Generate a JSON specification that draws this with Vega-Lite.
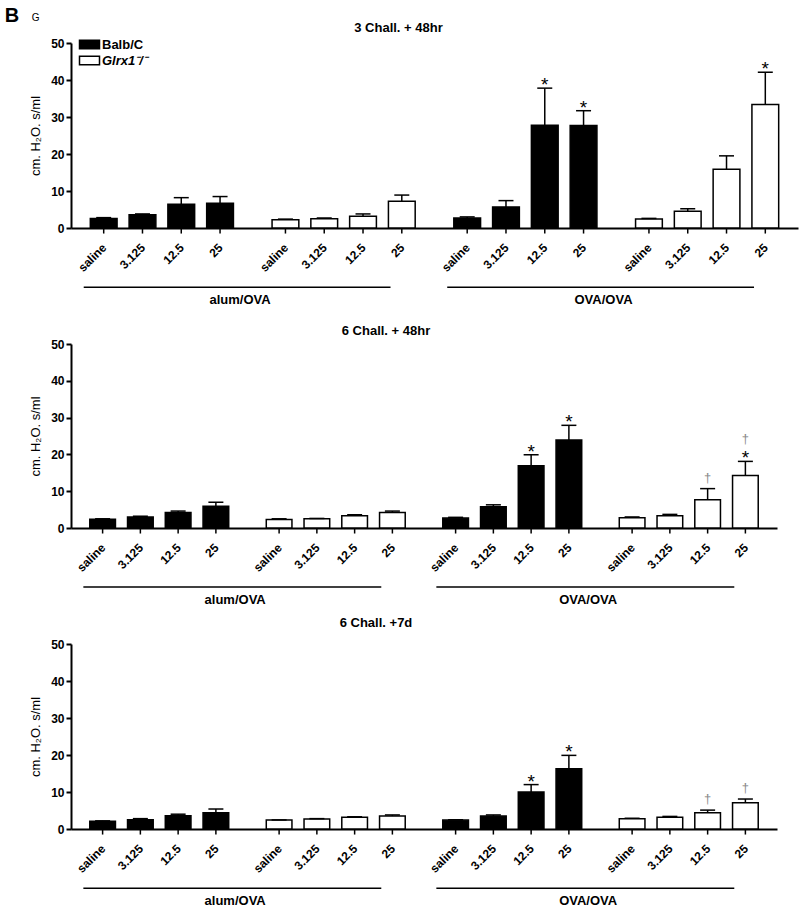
{
  "$schema": "https://vega.github.io/schema/vega-lite/v6.json",
  "padding": {"left": 4, "top": 6, "right": 4, "bottom": 2},
  "title": {"text": "B", "anchor": "start", "frame": "bounds", "dx": -25, "offset": -13, "font": "Liberation Sans", "fontSize": 20, "fontWeight": "bold", "color": "black"},
  "datasets": {
    "bars": [
      {"panel": 1, "group": "Balb/C alum/OVA", "strain": "Balb/C", "dose": "saline", "value": 2.6, "upper": 2.8, "star": "", "dagger": ""},
      {"panel": 1, "group": "Balb/C alum/OVA", "strain": "Balb/C", "dose": "3.125", "value": 3.6, "upper": 3.8, "star": "", "dagger": ""},
      {"panel": 1, "group": "Balb/C alum/OVA", "strain": "Balb/C", "dose": "12.5", "value": 6.4, "upper": 8.2, "star": "", "dagger": ""},
      {"panel": 1, "group": "Balb/C alum/OVA", "strain": "Balb/C", "dose": "25", "value": 6.7, "upper": 8.5, "star": "", "dagger": ""},
      {"panel": 1, "group": "Glrx1 alum/OVA", "strain": "Glrx1⁻/⁻", "dose": "saline", "value": 2.2, "upper": 2.4, "star": "", "dagger": ""},
      {"panel": 1, "group": "Glrx1 alum/OVA", "strain": "Glrx1⁻/⁻", "dose": "3.125", "value": 2.5, "upper": 2.7, "star": "", "dagger": ""},
      {"panel": 1, "group": "Glrx1 alum/OVA", "strain": "Glrx1⁻/⁻", "dose": "12.5", "value": 3.2, "upper": 3.8, "star": "", "dagger": ""},
      {"panel": 1, "group": "Glrx1 alum/OVA", "strain": "Glrx1⁻/⁻", "dose": "25", "value": 7.2, "upper": 8.9, "star": "", "dagger": ""},
      {"panel": 1, "group": "Balb/C OVA/OVA", "strain": "Balb/C", "dose": "saline", "value": 2.7, "upper": 3.0, "star": "", "dagger": ""},
      {"panel": 1, "group": "Balb/C OVA/OVA", "strain": "Balb/C", "dose": "3.125", "value": 5.7, "upper": 7.4, "star": "", "dagger": ""},
      {"panel": 1, "group": "Balb/C OVA/OVA", "strain": "Balb/C", "dose": "12.5", "value": 27.8, "upper": 37.8, "star": "*", "dagger": ""},
      {"panel": 1, "group": "Balb/C OVA/OVA", "strain": "Balb/C", "dose": "25", "value": 27.7, "upper": 31.7, "star": "*", "dagger": ""},
      {"panel": 1, "group": "Glrx1 OVA/OVA", "strain": "Glrx1⁻/⁻", "dose": "saline", "value": 2.4, "upper": 2.6, "star": "", "dagger": ""},
      {"panel": 1, "group": "Glrx1 OVA/OVA", "strain": "Glrx1⁻/⁻", "dose": "3.125", "value": 4.5, "upper": 5.2, "star": "", "dagger": ""},
      {"panel": 1, "group": "Glrx1 OVA/OVA", "strain": "Glrx1⁻/⁻", "dose": "12.5", "value": 15.9, "upper": 19.5, "star": "", "dagger": ""},
      {"panel": 1, "group": "Glrx1 OVA/OVA", "strain": "Glrx1⁻/⁻", "dose": "25", "value": 33.4, "upper": 42.1, "star": "*", "dagger": ""},

      {"panel": 2, "group": "Balb/C alum/OVA", "strain": "Balb/C", "dose": "saline", "value": 2.4, "upper": 2.5, "star": "", "dagger": ""},
      {"panel": 2, "group": "Balb/C alum/OVA", "strain": "Balb/C", "dose": "3.125", "value": 3.0, "upper": 3.2, "star": "", "dagger": ""},
      {"panel": 2, "group": "Balb/C alum/OVA", "strain": "Balb/C", "dose": "12.5", "value": 4.2, "upper": 4.6, "star": "", "dagger": ""},
      {"panel": 2, "group": "Balb/C alum/OVA", "strain": "Balb/C", "dose": "25", "value": 5.9, "upper": 7.0, "star": "", "dagger": ""},
      {"panel": 2, "group": "Glrx1 alum/OVA", "strain": "Glrx1⁻/⁻", "dose": "saline", "value": 2.3, "upper": 2.5, "star": "", "dagger": ""},
      {"panel": 2, "group": "Glrx1 alum/OVA", "strain": "Glrx1⁻/⁻", "dose": "3.125", "value": 2.5, "upper": 2.6, "star": "", "dagger": ""},
      {"panel": 2, "group": "Glrx1 alum/OVA", "strain": "Glrx1⁻/⁻", "dose": "12.5", "value": 3.3, "upper": 3.6, "star": "", "dagger": ""},
      {"panel": 2, "group": "Glrx1 alum/OVA", "strain": "Glrx1⁻/⁻", "dose": "25", "value": 4.2, "upper": 4.6, "star": "", "dagger": ""},
      {"panel": 2, "group": "Balb/C OVA/OVA", "strain": "Balb/C", "dose": "saline", "value": 2.7, "upper": 2.9, "star": "", "dagger": ""},
      {"panel": 2, "group": "Balb/C OVA/OVA", "strain": "Balb/C", "dose": "3.125", "value": 5.8, "upper": 6.3, "star": "", "dagger": ""},
      {"panel": 2, "group": "Balb/C OVA/OVA", "strain": "Balb/C", "dose": "12.5", "value": 16.9, "upper": 19.9, "star": "*", "dagger": ""},
      {"panel": 2, "group": "Balb/C OVA/OVA", "strain": "Balb/C", "dose": "25", "value": 23.9, "upper": 27.9, "star": "*", "dagger": ""},
      {"panel": 2, "group": "Glrx1 OVA/OVA", "strain": "Glrx1⁻/⁻", "dose": "saline", "value": 2.8, "upper": 3.0, "star": "", "dagger": ""},
      {"panel": 2, "group": "Glrx1 OVA/OVA", "strain": "Glrx1⁻/⁻", "dose": "3.125", "value": 3.3, "upper": 3.7, "star": "", "dagger": ""},
      {"panel": 2, "group": "Glrx1 OVA/OVA", "strain": "Glrx1⁻/⁻", "dose": "12.5", "value": 7.7, "upper": 10.7, "star": "", "dagger": "†"},
      {"panel": 2, "group": "Glrx1 OVA/OVA", "strain": "Glrx1⁻/⁻", "dose": "25", "value": 14.3, "upper": 18.1, "star": "*", "dagger": "†"},

      {"panel": 3, "group": "Balb/C alum/OVA", "strain": "Balb/C", "dose": "saline", "value": 2.1, "upper": 2.2, "star": "", "dagger": ""},
      {"panel": 3, "group": "Balb/C alum/OVA", "strain": "Balb/C", "dose": "3.125", "value": 2.5, "upper": 2.8, "star": "", "dagger": ""},
      {"panel": 3, "group": "Balb/C alum/OVA", "strain": "Balb/C", "dose": "12.5", "value": 3.6, "upper": 4.0, "star": "", "dagger": ""},
      {"panel": 3, "group": "Balb/C alum/OVA", "strain": "Balb/C", "dose": "25", "value": 4.4, "upper": 5.4, "star": "", "dagger": ""},
      {"panel": 3, "group": "Glrx1 alum/OVA", "strain": "Glrx1⁻/⁻", "dose": "saline", "value": 2.4, "upper": 2.45, "star": "", "dagger": ""},
      {"panel": 3, "group": "Glrx1 alum/OVA", "strain": "Glrx1⁻/⁻", "dose": "3.125", "value": 2.7, "upper": 2.8, "star": "", "dagger": ""},
      {"panel": 3, "group": "Glrx1 alum/OVA", "strain": "Glrx1⁻/⁻", "dose": "12.5", "value": 3.2, "upper": 3.3, "star": "", "dagger": ""},
      {"panel": 3, "group": "Glrx1 alum/OVA", "strain": "Glrx1⁻/⁻", "dose": "25", "value": 3.5, "upper": 3.8, "star": "", "dagger": ""},
      {"panel": 3, "group": "Balb/C OVA/OVA", "strain": "Balb/C", "dose": "saline", "value": 2.4, "upper": 2.5, "star": "", "dagger": ""},
      {"panel": 3, "group": "Balb/C OVA/OVA", "strain": "Balb/C", "dose": "3.125", "value": 3.5, "upper": 3.8, "star": "", "dagger": ""},
      {"panel": 3, "group": "Balb/C OVA/OVA", "strain": "Balb/C", "dose": "12.5", "value": 10.0, "upper": 12.0, "star": "*", "dagger": ""},
      {"panel": 3, "group": "Balb/C OVA/OVA", "strain": "Balb/C", "dose": "25", "value": 16.3, "upper": 19.9, "star": "*", "dagger": ""},
      {"panel": 3, "group": "Glrx1 OVA/OVA", "strain": "Glrx1⁻/⁻", "dose": "saline", "value": 2.8, "upper": 2.9, "star": "", "dagger": ""},
      {"panel": 3, "group": "Glrx1 OVA/OVA", "strain": "Glrx1⁻/⁻", "dose": "3.125", "value": 3.2, "upper": 3.4, "star": "", "dagger": ""},
      {"panel": 3, "group": "Glrx1 OVA/OVA", "strain": "Glrx1⁻/⁻", "dose": "12.5", "value": 4.4, "upper": 5.1, "star": "", "dagger": "†"},
      {"panel": 3, "group": "Glrx1 OVA/OVA", "strain": "Glrx1⁻/⁻", "dose": "25", "value": 7.1, "upper": 8.1, "star": "", "dagger": "†"}
    ],
    "brackets": [
      {"panel": 1, "start": "Balb/C alum/OVA", "end": "Glrx1 alum/OVA", "label": "alum/OVA"},
      {"panel": 1, "start": "Balb/C OVA/OVA", "end": "Glrx1 OVA/OVA", "label": "OVA/OVA"},
      {"panel": 2, "start": "Balb/C alum/OVA", "end": "Glrx1 alum/OVA", "label": "alum/OVA"},
      {"panel": 2, "start": "Balb/C OVA/OVA", "end": "Glrx1 OVA/OVA", "label": "OVA/OVA"},
      {"panel": 3, "start": "Balb/C alum/OVA", "end": "Glrx1 alum/OVA", "label": "alum/OVA"},
      {"panel": 3, "start": "Balb/C OVA/OVA", "end": "Glrx1 OVA/OVA", "label": "OVA/OVA"}
    ]
  },
  "vconcat": [
    {
      "title": {"text": "G", "anchor": "start", "frame": "bounds", "dx": 2, "offset": -1, "font": "Liberation Sans", "fontSize": 10, "fontWeight": "normal", "color": "black"},
      "spacing": 116,
      "bounds": "flush",
      "resolve": {"scale": {"x": "independent", "xOffset": "independent", "y": "independent"}, "legend": {"fill": "independent"}},
      "vconcat": [
        {
          "width": 727, "height": 185,
          "title": {"text": "3 Chall. + 48hr", "dx": -36, "offset": 2},
          "layer": [
            {
              "data": {"name": "bars"},
              "transform": [{"filter": "datum.panel === 1"}],
              "encoding": {
                "x": {"field": "group", "type": "nominal", "scale": {"domain": ["Balb/C alum/OVA", "Glrx1 alum/OVA", "Balb/C OVA/OVA", "Glrx1 OVA/OVA"], "paddingInner": 0.14, "paddingOuter": 0.07}, "axis": {"labels": false, "ticks": false, "title": null, "grid": false}},
                "xOffset": {"field": "dose", "type": "nominal", "scale": {"domain": ["saline", "3.125", "12.5", "25"], "paddingInner": 0.31, "paddingOuter": 0.17}}
              },
              "layer": [
                {"mark": {"type": "bar", "stroke": "black", "strokeWidth": 1.5},
                 "encoding": {
                   "y": {"field": "value", "type": "quantitative", "scale": {"domain": [0, 50], "nice": false}, "axis": {"values": [0, 10, 20, 30, 40, 50], "title": "cm. H₂O. s/ml"}},
                   "fill": {"field": "strain", "type": "nominal", "scale": {"domain": ["Balb/C", "Glrx1⁻/⁻"], "range": ["black", "white"]},
                     "legend": {"orient": "top-left", "offset": -5, "title": null, "padding": 0, "symbolType": "M-2,-0.85H2V0.85H-2Z", "symbolSize": 100, "symbolOffset": 17, "symbolStrokeColor": "black", "symbolStrokeWidth": 1.5, "labelFont": "Liberation Sans", "labelFontSize": 13, "labelFontWeight": "bold", "labelColor": "black", "labelOffset": 6, "rowPadding": 1,
                       "encode": {"labels": {"update": {"fontStyle": {"signal": "datum.value === 'Balb/C' ? 'normal' : 'italic'"}}}}}}
                 }},
                {"mark": {"type": "rule", "strokeWidth": 1.5, "color": "black"}, "encoding": {"y": {"field": "value", "type": "quantitative", "axis": {"values": [0, 10, 20, 30, 40, 50], "title": "cm. H₂O. s/ml"}}, "y2": {"field": "upper"}}},
                {"mark": {"type": "tick", "size": 15, "thickness": 1.5, "color": "black", "opacity": 1}, "encoding": {"y": {"field": "upper", "type": "quantitative", "axis": {"values": [0, 10, 20, 30, 40, 50], "title": "cm. H₂O. s/ml"}}}},
                {"mark": {"type": "rule", "strokeWidth": 1.5, "color": "black"}, "encoding": {"y": {"datum": 0, "axis": {"values": [0, 10, 20, 30, 40, 50], "title": "cm. H₂O. s/ml"}}, "y2": {"datum": -1.5}}},
                {"mark": {"type": "text", "angle": 315, "align": "right", "baseline": "middle", "dx": -12, "dy": 13, "fontSize": 12, "fontWeight": "bold"}, "encoding": {"y": {"datum": 0, "axis": {"values": [0, 10, 20, 30, 40, 50], "title": "cm. H₂O. s/ml"}}, "text": {"field": "dose"}}},
                {"mark": {"type": "text", "fontSize": 19, "baseline": "alphabetic", "dy": 3}, "encoding": {"y": {"field": "upper", "type": "quantitative", "axis": {"values": [0, 10, 20, 30, 40, 50], "title": "cm. H₂O. s/ml"}}, "text": {"field": "star"}}},
                {"transform": [{"filter": "datum.star === ''"}], "mark": {"type": "text", "fontSize": 13, "baseline": "bottom", "dy": -4, "color": "#8a8a8a"}, "encoding": {"y": {"field": "upper", "type": "quantitative", "axis": {"values": [0, 10, 20, 30, 40, 50], "title": "cm. H₂O. s/ml"}}, "text": {"field": "dagger"}}},
                {"transform": [{"filter": "datum.star !== ''"}], "mark": {"type": "text", "fontSize": 13, "baseline": "bottom", "dy": -15, "color": "#8a8a8a"}, "encoding": {"y": {"field": "upper", "type": "quantitative", "axis": {"values": [0, 10, 20, 30, 40, 50], "title": "cm. H₂O. s/ml"}}, "text": {"field": "dagger"}}}
              ]
            },
            {"data": {"name": "brackets"}, "transform": [{"filter": "datum.panel === 1"}], "mark": {"type": "rule", "strokeWidth": 1.5, "color": "black"},
             "encoding": {"x": {"field": "start", "type": "nominal", "bandPosition": 0, "axis": {"labels": false, "ticks": false, "title": null, "grid": false}}, "x2": {"field": "end", "bandPosition": 0.8}, "y": {"datum": -16, "axis": {"values": [0, 10, 20, 30, 40, 50], "title": "cm. H₂O. s/ml"}}}},
            {"data": {"name": "brackets"}, "transform": [{"filter": "datum.panel === 1"}], "mark": {"type": "text", "fontSize": 13, "fontWeight": "bold", "baseline": "middle", "dy": 72},
             "encoding": {"x": {"field": "start", "type": "nominal", "bandPosition": 1, "axis": {"labels": false, "ticks": false, "title": null, "grid": false}}, "y": {"datum": 0, "axis": {"values": [0, 10, 20, 30, 40, 50], "title": "cm. H₂O. s/ml"}}, "text": {"field": "label"}}}
          ]
        },
        {
          "width": 706, "height": 184,
          "title": {"text": "6 Chall. + 48hr", "dx": -38, "offset": 0},
          "layer": [
            {
              "data": {"name": "bars"},
              "transform": [{"filter": "datum.panel === 2"}],
              "encoding": {
                "x": {"field": "group", "type": "nominal", "scale": {"domain": ["Balb/C alum/OVA", "Glrx1 alum/OVA", "Balb/C OVA/OVA", "Glrx1 OVA/OVA"], "paddingInner": 0.14, "paddingOuter": 0.07}, "axis": {"labels": false, "ticks": false, "title": null, "grid": false}},
                "xOffset": {"field": "dose", "type": "nominal", "scale": {"domain": ["saline", "3.125", "12.5", "25"], "paddingInner": 0.32, "paddingOuter": 0.17}}
              },
              "layer": [
                {"mark": {"type": "bar", "stroke": "black", "strokeWidth": 1.5},
                 "encoding": {
                   "y": {"field": "value", "type": "quantitative", "scale": {"domain": [0, 50], "nice": false}, "axis": {"values": [0, 10, 20, 30, 40, 50], "title": "cm. H₂O. s/ml"}},
                   "fill": {"field": "strain", "type": "nominal", "scale": {"domain": ["Balb/C", "Glrx1⁻/⁻"], "range": ["black", "white"]}, "legend": null}
                 }},
                {"mark": {"type": "rule", "strokeWidth": 1.5, "color": "black"}, "encoding": {"y": {"field": "value", "type": "quantitative", "axis": {"values": [0, 10, 20, 30, 40, 50], "title": "cm. H₂O. s/ml"}}, "y2": {"field": "upper"}}},
                {"mark": {"type": "tick", "size": 15, "thickness": 1.5, "color": "black", "opacity": 1}, "encoding": {"y": {"field": "upper", "type": "quantitative", "axis": {"values": [0, 10, 20, 30, 40, 50], "title": "cm. H₂O. s/ml"}}}},
                {"mark": {"type": "rule", "strokeWidth": 1.5, "color": "black"}, "encoding": {"y": {"datum": 0, "axis": {"values": [0, 10, 20, 30, 40, 50], "title": "cm. H₂O. s/ml"}}, "y2": {"datum": -1.5}}},
                {"mark": {"type": "text", "angle": 315, "align": "right", "baseline": "middle", "dx": -12, "dy": 13, "fontSize": 12, "fontWeight": "bold"}, "encoding": {"y": {"datum": 0, "axis": {"values": [0, 10, 20, 30, 40, 50], "title": "cm. H₂O. s/ml"}}, "text": {"field": "dose"}}},
                {"mark": {"type": "text", "fontSize": 19, "baseline": "alphabetic", "dy": 3}, "encoding": {"y": {"field": "upper", "type": "quantitative", "axis": {"values": [0, 10, 20, 30, 40, 50], "title": "cm. H₂O. s/ml"}}, "text": {"field": "star"}}},
                {"transform": [{"filter": "datum.star === ''"}], "mark": {"type": "text", "fontSize": 13, "baseline": "bottom", "dy": -4, "color": "#8a8a8a"}, "encoding": {"y": {"field": "upper", "type": "quantitative", "axis": {"values": [0, 10, 20, 30, 40, 50], "title": "cm. H₂O. s/ml"}}, "text": {"field": "dagger"}}},
                {"transform": [{"filter": "datum.star !== ''"}], "mark": {"type": "text", "fontSize": 13, "baseline": "bottom", "dy": -15, "color": "#8a8a8a"}, "encoding": {"y": {"field": "upper", "type": "quantitative", "axis": {"values": [0, 10, 20, 30, 40, 50], "title": "cm. H₂O. s/ml"}}, "text": {"field": "dagger"}}}
              ]
            },
            {"data": {"name": "brackets"}, "transform": [{"filter": "datum.panel === 2"}], "mark": {"type": "rule", "strokeWidth": 1.5, "color": "black"},
             "encoding": {"x": {"field": "start", "type": "nominal", "bandPosition": 0, "axis": {"labels": false, "ticks": false, "title": null, "grid": false}}, "x2": {"field": "end", "bandPosition": 0.8}, "y": {"datum": -16, "axis": {"values": [0, 10, 20, 30, 40, 50], "title": "cm. H₂O. s/ml"}}}},
            {"data": {"name": "brackets"}, "transform": [{"filter": "datum.panel === 2"}], "mark": {"type": "text", "fontSize": 13, "fontWeight": "bold", "baseline": "middle", "dy": 72},
             "encoding": {"x": {"field": "start", "type": "nominal", "bandPosition": 1, "axis": {"labels": false, "ticks": false, "title": null, "grid": false}}, "y": {"datum": 0, "axis": {"values": [0, 10, 20, 30, 40, 50], "title": "cm. H₂O. s/ml"}}, "text": {"field": "label"}}}
          ]
        },
        {
          "width": 706, "height": 185,
          "title": {"text": "6 Chall. +7d", "dx": -48, "offset": 8},
          "layer": [
            {
              "data": {"name": "bars"},
              "transform": [{"filter": "datum.panel === 3"}],
              "encoding": {
                "x": {"field": "group", "type": "nominal", "scale": {"domain": ["Balb/C alum/OVA", "Glrx1 alum/OVA", "Balb/C OVA/OVA", "Glrx1 OVA/OVA"], "paddingInner": 0.14, "paddingOuter": 0.07}, "axis": {"labels": false, "ticks": false, "title": null, "grid": false}},
                "xOffset": {"field": "dose", "type": "nominal", "scale": {"domain": ["saline", "3.125", "12.5", "25"], "paddingInner": 0.32, "paddingOuter": 0.17}}
              },
              "layer": [
                {"mark": {"type": "bar", "stroke": "black", "strokeWidth": 1.5},
                 "encoding": {
                   "y": {"field": "value", "type": "quantitative", "scale": {"domain": [0, 50], "nice": false}, "axis": {"values": [0, 10, 20, 30, 40, 50], "title": "cm. H₂O. s/ml"}},
                   "fill": {"field": "strain", "type": "nominal", "scale": {"domain": ["Balb/C", "Glrx1⁻/⁻"], "range": ["black", "white"]}, "legend": null}
                 }},
                {"mark": {"type": "rule", "strokeWidth": 1.5, "color": "black"}, "encoding": {"y": {"field": "value", "type": "quantitative", "axis": {"values": [0, 10, 20, 30, 40, 50], "title": "cm. H₂O. s/ml"}}, "y2": {"field": "upper"}}},
                {"mark": {"type": "tick", "size": 15, "thickness": 1.5, "color": "black", "opacity": 1}, "encoding": {"y": {"field": "upper", "type": "quantitative", "axis": {"values": [0, 10, 20, 30, 40, 50], "title": "cm. H₂O. s/ml"}}}},
                {"mark": {"type": "rule", "strokeWidth": 1.5, "color": "black"}, "encoding": {"y": {"datum": 0, "axis": {"values": [0, 10, 20, 30, 40, 50], "title": "cm. H₂O. s/ml"}}, "y2": {"datum": -1.5}}},
                {"mark": {"type": "text", "angle": 315, "align": "right", "baseline": "middle", "dx": -12, "dy": 13, "fontSize": 12, "fontWeight": "bold"}, "encoding": {"y": {"datum": 0, "axis": {"values": [0, 10, 20, 30, 40, 50], "title": "cm. H₂O. s/ml"}}, "text": {"field": "dose"}}},
                {"mark": {"type": "text", "fontSize": 19, "baseline": "alphabetic", "dy": 3}, "encoding": {"y": {"field": "upper", "type": "quantitative", "axis": {"values": [0, 10, 20, 30, 40, 50], "title": "cm. H₂O. s/ml"}}, "text": {"field": "star"}}},
                {"transform": [{"filter": "datum.star === ''"}], "mark": {"type": "text", "fontSize": 13, "baseline": "bottom", "dy": -4, "color": "#8a8a8a"}, "encoding": {"y": {"field": "upper", "type": "quantitative", "axis": {"values": [0, 10, 20, 30, 40, 50], "title": "cm. H₂O. s/ml"}}, "text": {"field": "dagger"}}},
                {"transform": [{"filter": "datum.star !== ''"}], "mark": {"type": "text", "fontSize": 13, "baseline": "bottom", "dy": -15, "color": "#8a8a8a"}, "encoding": {"y": {"field": "upper", "type": "quantitative", "axis": {"values": [0, 10, 20, 30, 40, 50], "title": "cm. H₂O. s/ml"}}, "text": {"field": "dagger"}}}
              ]
            },
            {"data": {"name": "brackets"}, "transform": [{"filter": "datum.panel === 3"}], "mark": {"type": "rule", "strokeWidth": 1.5, "color": "black"},
             "encoding": {"x": {"field": "start", "type": "nominal", "bandPosition": 0, "axis": {"labels": false, "ticks": false, "title": null, "grid": false}}, "x2": {"field": "end", "bandPosition": 0.8}, "y": {"datum": -16, "axis": {"values": [0, 10, 20, 30, 40, 50], "title": "cm. H₂O. s/ml"}}}},
            {"data": {"name": "brackets"}, "transform": [{"filter": "datum.panel === 3"}], "mark": {"type": "text", "fontSize": 13, "fontWeight": "bold", "baseline": "middle", "dy": 72},
             "encoding": {"x": {"field": "start", "type": "nominal", "bandPosition": 1, "axis": {"labels": false, "ticks": false, "title": null, "grid": false}}, "y": {"datum": 0, "axis": {"values": [0, 10, 20, 30, 40, 50], "title": "cm. H₂O. s/ml"}}, "text": {"field": "label"}}}
          ]
        }
      ]
    }
  ],
  "config": {
    "font": "Liberation Sans",
    "view": {"stroke": null},
    "title": {"font": "Liberation Sans", "fontSize": 13, "fontWeight": "bold", "color": "black"},
    "text": {"font": "Liberation Sans", "color": "black"},
    "axis": {"domainColor": "black", "domainWidth": 2, "tickColor": "black", "tickWidth": 2, "tickSize": 5, "labelFont": "Liberation Sans", "labelFontSize": 12, "labelFontWeight": "bold", "labelColor": "black", "labelPadding": 2, "titleFont": "Liberation Sans", "titleFontSize": 13, "titleFontWeight": "normal", "titleColor": "black", "titlePadding": 8, "grid": false}
  }
}
